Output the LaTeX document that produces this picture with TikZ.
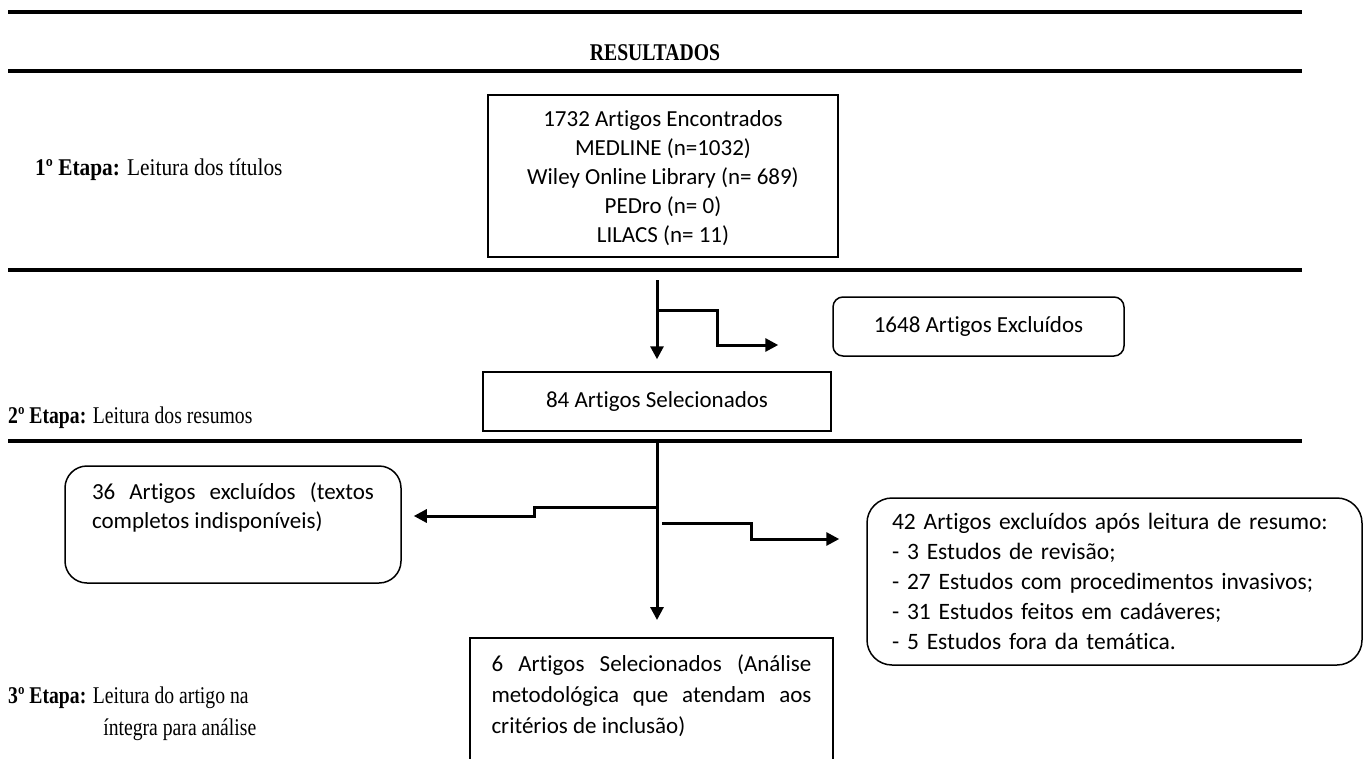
\documentclass[tikz,border=0pt]{standalone}
\usepackage{graphicx}
\usepackage{fontspec}
\setmainfont{Liberation Serif}
\newfontfamily\calib{Carlito}[Ligatures=CommonOff]
\usetikzlibrary{arrows.meta,positioning}

\tikzset{
  rule/.style={line width=4pt},
  plainbox/.style={draw, line width=1.5pt, inner sep=0pt, font=\calib\fontsize{23}{29}\selectfont},
  roundbox/.style={plainbox, rounded corners=#1},
  roundbox/.default=12pt,
  flow/.style={line width=3pt, -{Triangle[length=13pt,width=13pt]}},
  etapa/.style={anchor=west, align=left, inner sep=0pt, font=\fontsize{24}{32}\selectfont}
}

\begin{document}
\begin{tikzpicture}[x=1pt,y=-1pt]
    \useasboundingbox (0,0) rectangle (1368,758) ;
    \clip (0,0) rectangle (1368,758) ;

    \draw[rule] (8,12) -- (1302,12) ;
    \draw[rule] (8,71) -- (1302,71) ;
    \draw[rule] (8,270) -- (1302,270) ;
    \draw[rule] (8,441) -- (1302,441) ;
    \node[font=\bfseries\fontsize{24}{28}\selectfont] (titulo) at (655,53) {\scalebox{0.82}[1]{RESULTADOS}} ;

    \node[etapa] (etapa1) at (35,170) {\scalebox{0.89}[1]{\textbf{1º Etapa:} Leitura dos títulos}} ;
    \node[etapa] (etapa2) at (8,418) {\scalebox{0.82}[1]{\textbf{2º Etapa:} Leitura dos resumos}} ;
    \node[etapa] (etapa3) at (8,713) {\scalebox{0.82}[1]{\begin{tabular}{@{}l@{}}\textbf{3º Etapa:} Leitura do artigo na\\\hspace*{116pt}íntegra para análise\end{tabular}}} ;

    \node[plainbox] (encontrados) at (663,176)
      {\parbox[c][162pt][t]{350pt}{\centering\vspace*{16pt}1732 Artigos Encontrados\\MEDLINE (n=1032)\\Wiley Online Library (n= 689)\\PEDro (n= 0)\\LILACS (n= 11)}} ;
    \node[plainbox, minimum width=348pt, minimum height=59pt] (sel84) at (657,401.5) {84 Artigos Selecionados} ;
    \node[roundbox=10pt, minimum width=291pt, minimum height=59pt] (exc1648) at (978.5,326.5) {1648 Artigos Excluídos} ;

    \coordinate (inicio1) at (657,280) ;
    \coordinate (ramo1) at (657,310) ;
    \draw[flow, shorten >=12pt] (inicio1) -- (sel84.north) ;
    \draw[flow] (ramo1) -- ++(60,0) |- ([xshift=-54pt,yshift=-18.5pt]exc1648.west) ;

    \node[roundbox=22pt, inner xsep=27pt] (exc36) at (233,524.5)
      {\parbox[c][117pt][t]{282pt}{\vspace*{17pt}36 Artigos excluídos (textos\linebreak completos indisponíveis)}} ;
    \node[roundbox=25pt, text width=445pt, inner xsep=25pt, minimum height=167pt, align=left,
      font=\calib\fontsize{23.5}{30.2}\selectfont] (exc42) at (1114.5,581.5)
      {42 Artigos excluídos após leitura de resumo:\\- 3 Estudos de revisão;\\- 27 Estudos com procedimentos invasivos;\\- 31 Estudos feitos em cadáveres;\\- 5 Estudos fora da temática.} ;
    \node[plainbox, inner xsep=21.5pt, anchor=north, font=\calib\fontsize{23}{31}\selectfont] (sel6) at (651.5,637)
      {\parbox[c][180pt][t]{320pt}{\vspace*{17pt}6 Artigos Selecionados (Análise\linebreak metodológica que atendam aos\linebreak critérios de inclusão)}} ;

    \coordinate (inicio2) at (657,443) ;
    \coordinate (ramo2) at (657,507) ;
    \coordinate (ramo3) at (662,523) ;
    \draw[flow, shorten >=17pt] (inicio2) -- (inicio2 |- sel6.north) ;
    \draw[flow] (ramo2) -- ++(-123,0) |- ([xshift=12pt,yshift=8.5pt]exc36.east) ;
    \draw[flow] (ramo3) -- ++(89,0) |- ([xshift=-27pt,yshift=42.5pt]exc42.west) ;
\end{tikzpicture}
\end{document}
